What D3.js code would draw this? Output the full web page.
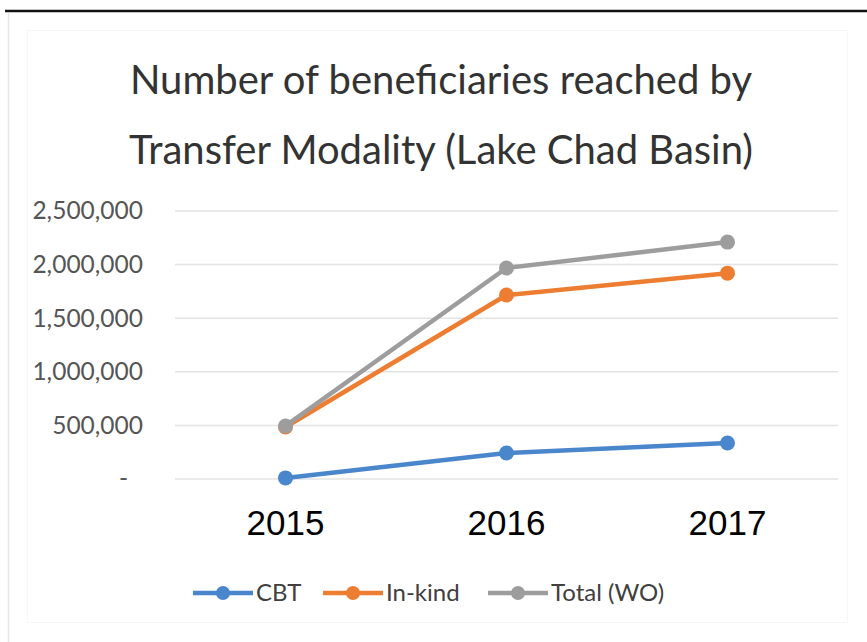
<!DOCTYPE html>
<html><head><meta charset="utf-8">
<script src="https://cdn.jsdelivr.net/npm/d3@7"></script>
<style>html,body{margin:0;padding:0;background:#fff;}</style>
</head><body>
<svg id="c" width="867" height="642"></svg>
<script>
const years = ["2015", "2016", "2017"];
const cbt = [10000, 243000, 336000];
const inKind = [485000, 1716000, 1920000];
const total = [495000, 1968000, 2210000];
const yTicks = [0, 500000, 1000000, 1500000, 2000000, 2500000];
const seriesNames = ["CBT", "In-kind", "Total (WO)"];
const titleLines = ["Number of beneficiaries reached by", "Transfer Modality (Lake Chad Basin)"];

const colors = ["#4a86cc", "#ed7d31", "#9d9d9d"];
const series = [cbt, inKind, total].map((v, i) => ({name: seriesNames[i], values: v, color: colors[i]}));

const svg = d3.select("#c");
const font = "Lato, 'Open Sans', sans-serif";

// frame
svg.append("line").attr("x1", 5).attr("x2", 867).attr("y1", 11).attr("y2", 11)
  .attr("stroke", "#111").attr("stroke-width", 2.5);
svg.append("line").attr("x1", 8.5).attr("x2", 8.5).attr("y1", 13).attr("y2", 642)
  .attr("stroke", "#e6e6e6").attr("stroke-width", 1.5);
svg.append("rect").attr("x", 27.5).attr("y", 30.5).attr("width", 820).attr("height", 592)
  .attr("fill", "none").attr("stroke", "#f7f7f7").attr("stroke-width", 1);

// title
svg.append("g").selectAll("text").data(titleLines).join("text")
  .attr("x", 441).attr("y", (d, i) => 94 + i * 70)
  .attr("text-anchor", "middle").attr("font-family", font).attr("font-size", 40)
  .attr("fill", "#333").text(d => d);

const x = d3.scaleBand().domain(years).range([175, 838]);
const y = d3.scaleLinear().domain([0, 2500000]).range([479, 211]);
const cx = d => x(d) + x.bandwidth() / 2;

// gridlines
svg.append("g").selectAll("line").data(yTicks).join("line")
  .attr("x1", 175).attr("x2", 838).attr("y1", d => y(d)).attr("y2", d => y(d))
  .attr("stroke", "#e3e3e3").attr("stroke-width", 1.5);

// y axis
const yAxis = d3.axisLeft(y).tickValues(yTicks).tickSize(0).tickPadding(0)
  .tickFormat(d => d === 0 ? "-" : d3.format(",")(d));
const gy = svg.append("g").attr("transform", "translate(143,0)").call(yAxis);
gy.select(".domain").remove();
gy.selectAll("text").attr("font-family", font).attr("font-size", 24.5).attr("fill", "#555")
  .attr("dy", "0.32em")
  .attr("dx", d => d === 0 ? -15 : 0);

// x axis
const xAxis = d3.axisBottom(x).tickSize(0).tickPadding(0);
const gx = svg.append("g").attr("transform", "translate(0,510)").call(xAxis);
gx.select(".domain").remove();
gx.selectAll("text").attr("font-family", "Arial, 'Liberation Sans', sans-serif")
  .attr("font-size", 35).attr("fill", "#000").attr("dy", "0.71em");

// lines
const line = d3.line().x((d, i) => cx(years[i])).y(d => y(d));
const gs = svg.append("g").selectAll("g").data(series).join("g");
gs.append("path").attr("d", d => line(d.values)).attr("fill", "none")
  .attr("stroke", d => d.color).attr("stroke-width", 4.5).attr("stroke-linejoin", "round");
gs.selectAll("circle").data(d => d.values.map((v, i) => ({v, i, color: d.color}))).join("circle")
  .attr("cx", d => cx(years[d.i])).attr("cy", d => y(d.v)).attr("r", 7.5)
  .attr("fill", d => d.color);

// legend
const legX = [193, 323, 488];
const lg = svg.append("g").selectAll("g").data(series).join("g")
  .attr("transform", (d, i) => `translate(${legX[i]},593)`);
lg.append("line").attr("x1", 0).attr("x2", 60).attr("stroke", d => d.color).attr("stroke-width", 4.5);
lg.append("circle").attr("cx", 30).attr("r", 7).attr("fill", d => d.color);
lg.append("text").attr("x", 63).attr("dy", "0.35em").attr("font-family", font)
  .attr("font-size", 24).attr("fill", "#404040").text(d => d.name);
</script>
</body></html>
